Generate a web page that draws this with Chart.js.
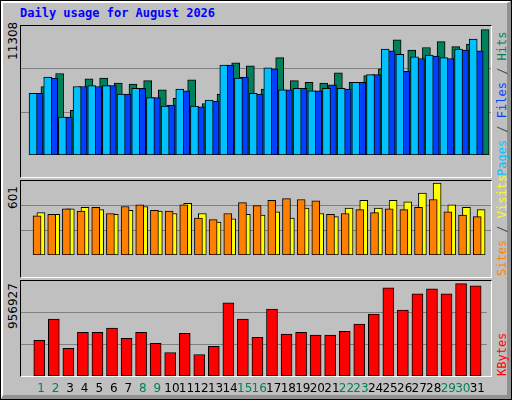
<!DOCTYPE html>
<html>
<head>
<meta charset="utf-8">
<script src="https://cdn.jsdelivr.net/npm/chart.js@4/dist/chart.umd.min.js"></script>
<style>
  body { margin: 0; background: #c0c0c0; }
  #frame { position: absolute; left: 0; top: 0; width: 510px; height: 398px; border: 1px solid #000; background: #c0c0c0; }
  #bevel { position: absolute; left: 0; top: 0; width: 504px; height: 392px; border-top: 2px solid #fff; border-left: 2px solid #fff; border-right: 4px solid #909090; border-bottom: 4px solid #909090; }
  .box { position: absolute; left: 20px; width: 470px; border-top: 1px solid #000; border-left: 1px solid #000; border-right: 1px solid #fff; border-bottom: 1px solid #fff; background: #c0c0c0; }
  canvas { position: absolute; left: 21px; }
  #title { position: absolute; left: 20px; top: 6px; font: bold 12px "DejaVu Sans Mono", monospace; color: #0000ff; }
  .vl { position: absolute; white-space: nowrap; transform: rotate(-90deg); transform-origin: 0 0; font: 12px "DejaVu Sans", sans-serif; color: #000; }
  .vr { position: absolute; white-space: nowrap; transform: rotate(-90deg); transform-origin: 0 0; font: 12px "DejaVu Sans Mono", monospace; }
</style>
</head>
<body>
<div id="frame"><div id="bevel"></div></div>
<div id="title">Daily usage for August 2026</div>
<div class="box" style="top:25px;height:151px"></div>
<div class="box" style="top:180px;height:96px"></div>
<div class="box" style="top:280px;height:95px"></div>
<canvas id="c1" width="470" height="151" style="top:26px"></canvas>
<canvas id="c2" width="470" height="96" style="top:181px"></canvas>
<canvas id="c3" width="470" height="117" style="top:281px"></canvas>
<div class="vl" style="left:6px;top:60px">11308</div>
<div class="vl" style="left:6px;top:209px">601</div>
<div class="vl" style="left:6px;top:329px">956927</div>
<div class="vr" style="left:495px;top:176px"><span style="color:#00c0ff">Pages</span><span style="color:#505050"> / </span><span style="color:#0040ff">Files</span><span style="color:#505050"> / </span><span style="color:#00805c">Hits</span></div>
<div class="vr" style="left:495px;top:276px"><span style="color:#ff8000">Sites</span><span style="color:#505050"> / </span><span style="color:#ffff00">Visits</span></div>
<div class="vr" style="left:495px;top:376px"><span style="color:#ff0000">KBytes</span></div>
<script>
const days = Array.from({ length: 31 }, (_, i) => i + 1);
const weekendDays = [1, 2, 8, 9, 15, 16, 22, 23, 29, 30];
const hits = [6002, 7142, 3918, 6671, 6746, 6299, 6225, 6522, 5704, 4960, 6597, 4514, 5332, 8085, 7812, 5778,
	8531, 6522, 6374, 6299, 7192, 6374, 6969, 7564, 10094, 9201, 9424, 9945, 9498, 9722, 10986];
const files = [5406, 6746, 3323, 6002, 6002, 6076, 5332, 5853, 5034, 4365, 5630, 4216, 4737, 7886, 6820, 5332,
	7564, 5704, 5853, 5630, 6150, 5778, 6374, 7043, 9126, 7341, 8457, 8680, 8457, 9201, 9126];
const pages = [5406, 6820, 3323, 6002, 6076, 6076, 5332, 5853, 5034, 4290, 5778, 4290, 4811, 7886, 6746, 5406,
	7638, 5704, 5853, 5630, 5853, 5853, 6374, 7043, 9275, 8829, 8606, 8754, 8531, 9275, 10168];
const visits = [344, 331, 375, 388, 369, 331, 363, 394, 356, 337, 420, 337, 268, 293, 331, 325,
	350, 299, 382, 337, 312, 382, 445, 382, 445, 432, 502, 584, 407, 388, 369];
const sites = [318, 331, 375, 356, 388, 337, 394, 407, 363, 356, 407, 299, 287, 337, 426, 401,
	445, 458, 451, 439, 331, 337, 369, 344, 375, 369, 388, 451, 350, 325, 312];
const kbytes = [359700, 573000, 278000, 441000, 441000, 482000, 380000, 441000, 329000, 237000, 431000, 217000, 299000, 736000, 573000, 390000,
	675000, 421000, 441000, 411000, 411000, 451000, 523000, 624000, 889000, 665000, 828000, 879000, 828000, 930000, 909000];
const yMax = [11308, 601, 956927];

// bars sit on a linear day axis, shifted inside each day slot
function pts(values, shift) {
	return values.map((v, i) => ({ x: days[i] + shift, y: v }));
}
function bar(values, shift, color, width, order) {
	return { data: pts(values, shift), backgroundColor: color, borderColor: "#000", borderWidth: 1, barThickness: width, borderSkipped: false, order: order };
}
function makeChart(id, datasets, max, showDays) {
	return new Chart(document.getElementById(id), {
		type: "bar",
		data: { datasets: datasets },
		options: {
			responsive: false,
			animation: false,
			devicePixelRatio: 1,
			layout: { padding: 0 },
			plugins: { legend: { display: false }, tooltip: { enabled: false } },
			scales: {
				x: {
					type: "linear", min: 0.14, max: 31.14,
					display: showDays,
					grid: { display: false, drawTicks: false },
					border: { display: false },
					afterFit: (scale) => { scale.height = 22; },
					afterBuildTicks: (scale) => { scale.ticks = days.map((d) => ({ value: d })); },
					ticks: {
						padding: 6, autoSkip: false, maxRotation: 0,
						font: { family: "DejaVu Sans", size: 12 },
						color: (ctx) => weekendDays.includes(ctx.tick.value) ? "#00805c" : "#000",
						callback: (v) => String(v),
					},
				},
				y: {
					min: 0, max: max, display: true,
					afterBuildTicks: (scale) => { scale.ticks = [{ value: max / 3 }, { value: max * 2 / 3 }]; },
					ticks: { display: false },
					grid: { color: "#808080", drawTicks: false, lineWidth: 1 },
					border: { display: false },
					afterFit: (scale) => { scale.width = 0; },
				},
			},
		},
	});
}
// drawn back to front: hits, files, pages
makeChart("c1", [
	bar(hits, -0.29, "#00805c", 8, 3),
	bar(files, -0.15, "#0040ff", 8, 2),
	bar(pages, -0.01, "#00c0ff", 8, 1),
], yMax[0], false);
makeChart("c2", [
	bar(visits, -0.29, "#ffff00", 8, 2),
	bar(sites, -0.01, "#ff8000", 8, 1),
], yMax[1], false);
makeChart("c3", [
	bar(kbytes, -0.12, "#ff0000", 11, 1),
], yMax[2], true);
</script>
</body>
</html>
